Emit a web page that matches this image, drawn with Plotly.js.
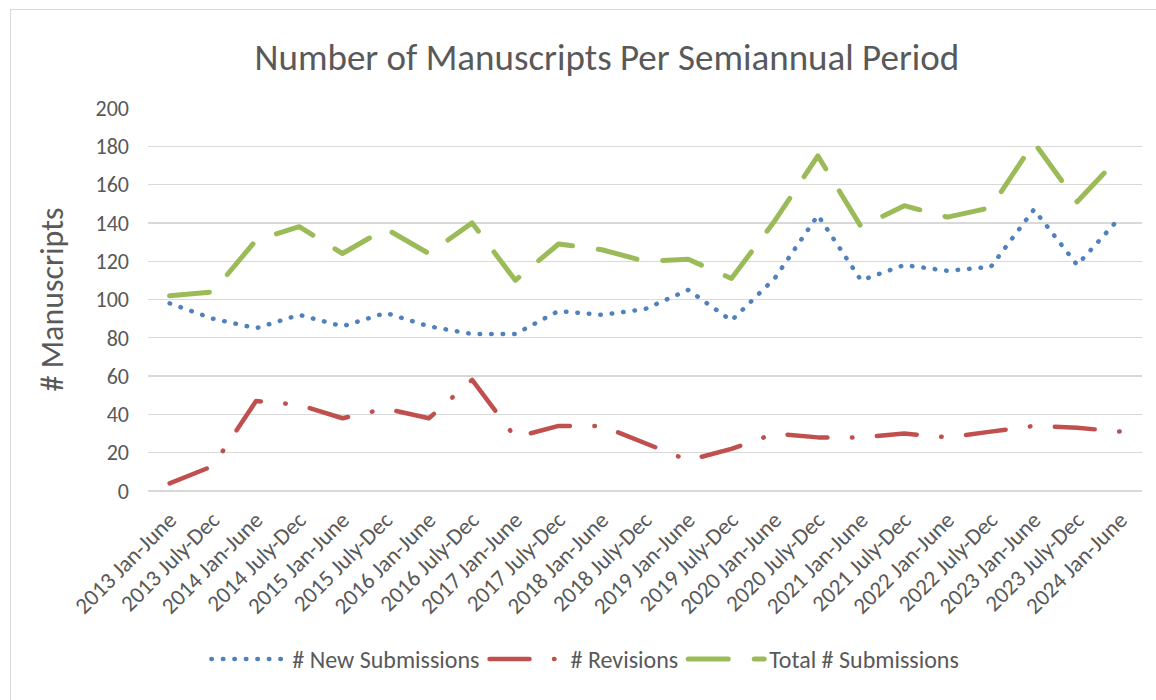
<!DOCTYPE html>
<html>
<head>
<meta charset="utf-8">
<script src="https://cdn.plot.ly/plotly-3.0.1.min.js"></script>
<style>
  html, body { margin: 0; padding: 0; background: #ffffff; }
  #wrap { position: relative; width: 1156px; height: 700px; overflow: hidden; }
  #chart { width: 1156px; height: 700px; }
  #frame { position: absolute; left: 10px; top: 9px; width: 1200px; height: 760px;
           border: 1.5px solid #d9d9d9; box-sizing: border-box; pointer-events: none; }
  .scatterlayer path.js-line, .legend path.js-line { stroke-linecap: round !important; stroke-linejoin: round !important; }
</style>
</head>
<body>
<div id="wrap">
  <div id="chart"></div>
  <div id="frame"></div>
</div>
<script>
const periods = [
  "2013 Jan-June", "2013 July-Dec", "2014 Jan-June", "2014 July-Dec",
  "2015 Jan-June", "2015 July-Dec", "2016 Jan-June", "2016 July-Dec",
  "2017 Jan-June", "2017 July-Dec", "2018 Jan-June", "2018 July-Dec",
  "2019 Jan-June", "2019 July-Dec", "2020 Jan-June", "2020 July-Dec",
  "2021 Jan-June", "2021 July-Dec", "2022 Jan-June", "2022 July-Dec",
  "2023 Jan-June", "2023 July-Dec", "2024 Jan-June"
];
const newSubmissions = [98, 90, 85, 92, 86, 93, 86, 82, 82, 94, 92, 95, 105, 89, 111, 144, 110, 118, 115, 117, 147, 118, 143];
const revisions      = [4, 13, 47, 45, 38, 43, 38, 58, 28, 34, 34, 25, 16, 22, 30, 28, 28, 30, 28, 31, 34, 33, 31];
const totalSubmissions = [102, 104, 131, 138, 124, 137, 124, 140, 110, 129, 126, 120, 121, 111, 141, 175, 138, 149, 143, 148, 182, 151, 175];
const seriesNames = ["# New Submissions", "# Revisions", "Total # Submissions"];
const yTicks = [0, 20, 40, 60, 80, 100, 120, 140, 160, 180, 200];

const FONT = "Calibri, Carlito, Lato, sans-serif";
const TXT = "#595959";

const traces = [
  { x: periods, y: newSubmissions, name: seriesNames[0], type: "scatter", mode: "lines",
    line: { color: "#4F81BD", width: 4.5, dash: "0.5px,11px" } },
  { x: periods, y: revisions, name: seriesNames[1], type: "scatter", mode: "lines",
    line: { color: "#C0504D", width: 4.5, dash: "40px,24.5px,0.5px,24.5px" } },
  { x: periods, y: totalSubmissions, name: seriesNames[2], type: "scatter", mode: "lines",
    line: { color: "#9BBB59", width: 5, dash: "40px,26px" } }
];

const layout = {
  width: 1156, height: 700,
  paper_bgcolor: "#ffffff", plot_bgcolor: "#ffffff",
  margin: { l: 148, r: 14, t: 108, b: 209, autoexpand: false },
  font: { family: FONT, color: TXT, size: 20 },
  title: { text: "Number of Manuscripts Per Semiannual Period",
           font: { family: FONT, size: 37, color: TXT },
           xref: "container", x: 0.525, xanchor: "center",
           yref: "container", y: 0.918, yanchor: "middle" },
  xaxis: {
    type: "category", range: [-0.5, 22.5], fixedrange: true,
    tickangle: -45, showgrid: false, zeroline: false,
    showline: false, ticks: "", ticklabelstandoff: 10,
    tickfont: { family: FONT, size: 23, color: TXT }
  },
  yaxis: {
    range: [0, 200], autorange: false, fixedrange: true,
    tickmode: "array", tickvals: yTicks, ticktext: yTicks.map(String),
    showgrid: true, gridcolor: "#d9d9d9", gridwidth: 1.4,
    zeroline: true, zerolinecolor: "#d9d9d9", zerolinewidth: 1.4,
    showline: false, ticks: "", ticklabelstandoff: 18,
    tickfont: { family: FONT, size: 22, color: TXT },
    title: { text: "# Manuscripts", font: { family: FONT, size: 32, color: TXT }, standoff: 22 }
  },
  showlegend: true,
  legend: {
    orientation: "h", x: 0.44, xanchor: "center", xref: "paper",
    y: -0.44, yanchor: "middle", yref: "paper",
    font: { family: FONT, size: 24, color: TXT },
    itemwidth: 76, traceorder: "normal", bgcolor: "rgba(0,0,0,0)"
  }
};

Plotly.newPlot("chart", traces, layout, { displayModeBar: false, staticPlot: true });
</script>
</body>
</html>
